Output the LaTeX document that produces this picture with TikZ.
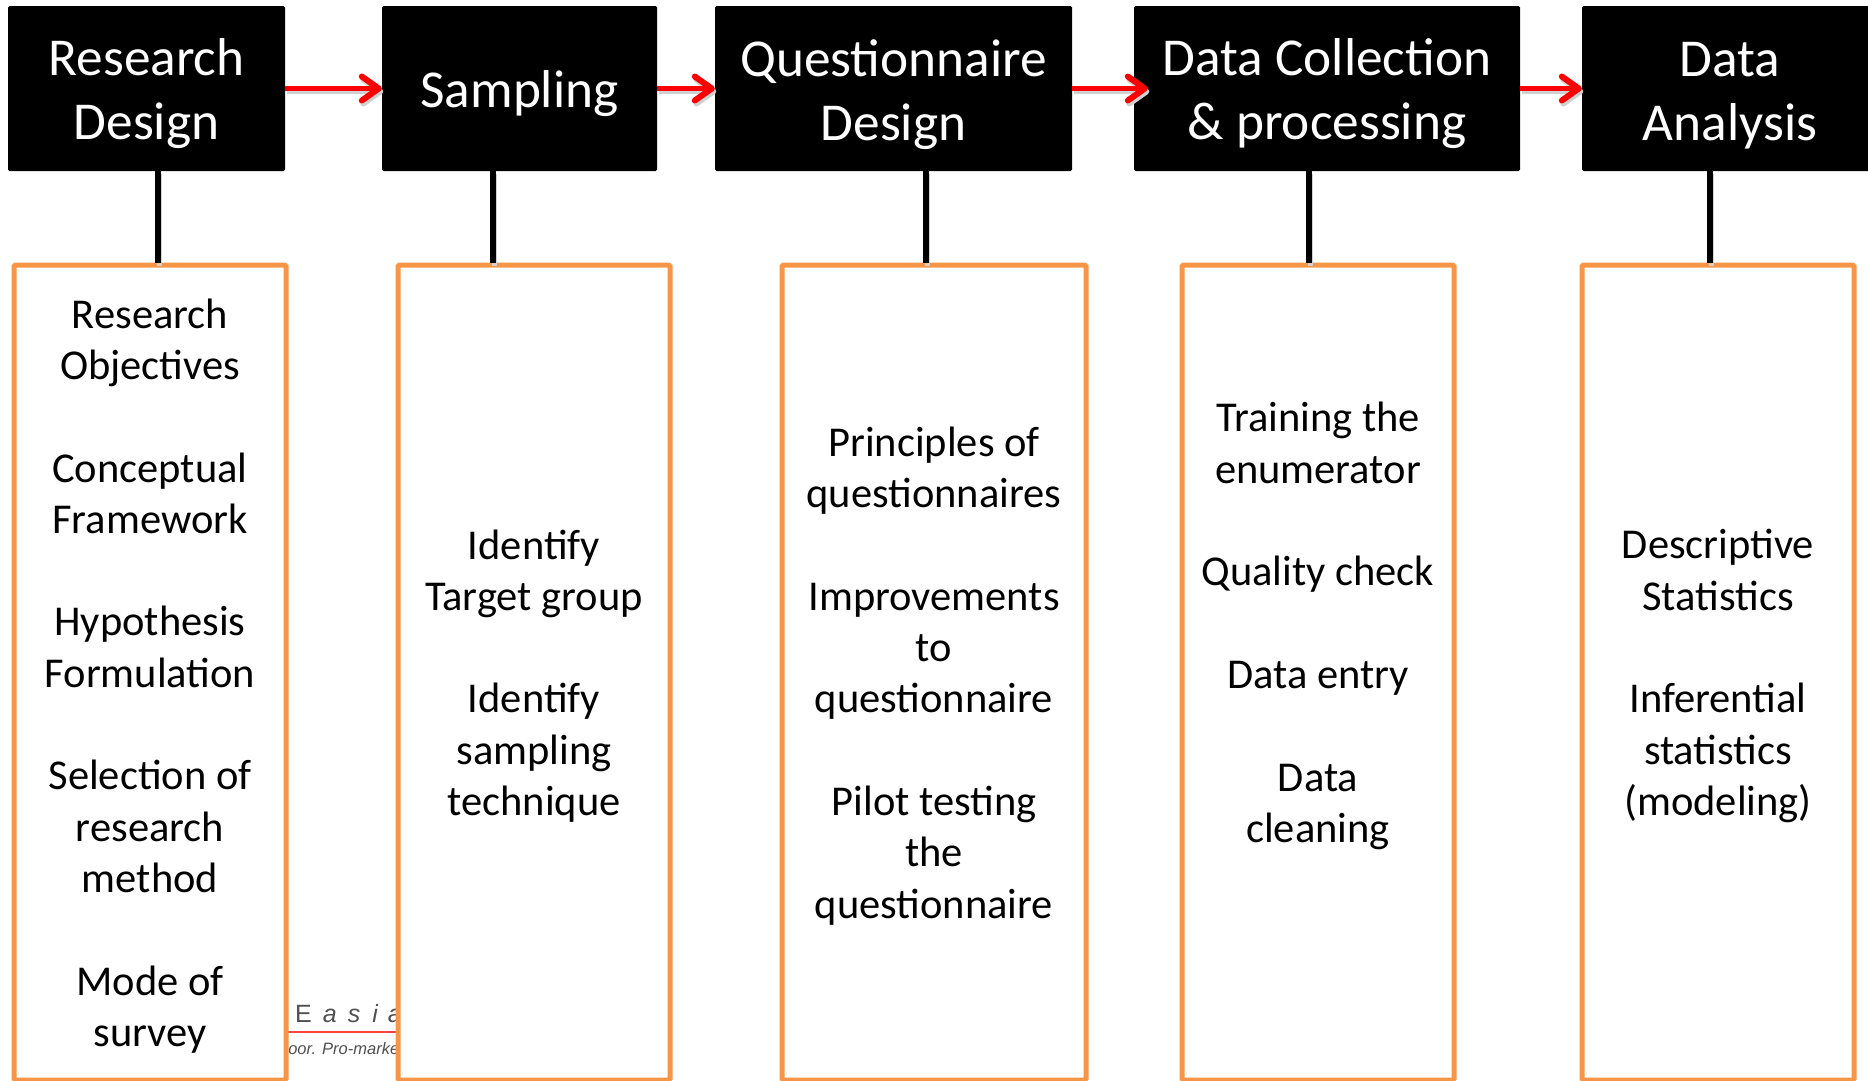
\documentclass[tikz,border=0pt]{standalone}
\usepackage{fontspec}
\setmainfont{Carlito}
\newfontfamily\markfont{Liberation Sans}
\usetikzlibrary{arrows.meta}
\definecolor{boxorange}{RGB}{247,150,70}
\definecolor{markgray}{RGB}{80,80,80}
\newcommand{\tallline}{\rule{0pt}{39pt}}
\tikzset{
    stage/.style={rectangle, rounded corners=1.5pt, fill=black, text=white, align=center, inner sep=0pt, minimum height=165pt, text depth=0pt, font=\fontsize{53.3}{64}\selectfont},
    detail/.style={rectangle, rounded corners=1.5pt, draw=boxorange, line width=5pt, align=center, inner sep=0pt, minimum height=815pt, text depth=0pt, font=\fontsize{42.5}{51.3}\selectfont},
    flow/.style={draw=red, line width=5.5pt, -{Straight Barb[length=17pt, width=24pt, line width=6pt, round]}},
    stem/.style={draw=black, line width=5.5pt},
    lift/.style={preaction={draw=black!18, line width=5pt, transform canvas={shift={(1.5pt,-3pt)}}}}
}
\begin{document}
\begin{tikzpicture}[x=1pt, y=-1pt]
    \useasboundingbox (0,0) rectangle (1868,1080);

    % Faint logo behind the boxes
    \begin{scope}
        \clip (286,980) rectangle (397,1080);
        \node[anchor=base west, inner sep=0pt, text=markgray, font=\markfont\fontsize{25}{30}\selectfont] (logo) at (295,1022) {E\hspace{11pt}\itshape a\hspace{11pt}s\hspace{12pt}i\hspace{10pt}a};
        \coordinate (rule start) at (286,1031.5);
        \coordinate (rule end) at (397,1031.5);
        \draw[red!75, line width=2pt] (rule start) -- (rule end);
        \node[anchor=base east, inner sep=0pt, text=markgray, font=\markfont\itshape\fontsize{16.5}{20}\selectfont] (tag) at (404,1054) {poor. Pro-market};
    \end{scope}

    % Stages along the top
    \node[stage, minimum width=277pt] (design) at (146.5,88.5) {Research\\Design};
    \node[stage, minimum width=275pt] (sampling) at (519.5,88.5) {Sampling};
    \node[stage, minimum width=357pt] (quest) at (893.5,88.5) {\tallline Questionnaire\\Design};
    \node[stage, minimum width=386pt] (collect) at (1327,88.5) {Data Collection\\\& processing};
    \node[stage, minimum width=296pt] (analysis) at (1730,88.5) {\tallline Data\\Analysis};

    % Activity lists, cut by the lower edge
    \node[detail, minimum width=272pt] (design list) at (150,672.5) {Research\\Objectives\\[51.3pt]Conceptual\\Framework\\[51.3pt]Hypothesis\\Formulation\\[51.3pt]Selection of\\research\\method\\[51.3pt]Mode of\\survey};
    \node[detail, minimum width=272pt] (sampling list) at (534,672.5) {Identify\\Target group\\[51.3pt]Identify\\sampling\\technique};
    \node[detail, minimum width=304pt] (quest list) at (934,672.5) {Principles of\\questionnaires\\[51.3pt]Improvements\\to\\questionnaire\\[51.3pt]Pilot testing\\the\\questionnaire};
    \node[detail, minimum width=272pt] (collect list) at (1318,672.5) {Training the\\enumerator\\[51.3pt]Quality check\\[51.3pt]Data entry\\[51.3pt]Data\\cleaning\\[49pt]\strut};
    \node[detail, minimum width=272pt] (analysis list) at (1718,672.5) {Descriptive\\Statistics\\[51.3pt]Inferential\\statistics\\(modeling)};

    % Flow between stages
    \draw[flow, lift] (design) -- (sampling);
    \draw[flow, lift] (sampling) -- (quest);
    \draw[flow, lift, shorten >=-14pt] (quest) -- (collect);
    \draw[flow, lift] (collect) -- (analysis);

    % Stems down to the lists
    \draw[stem, lift] ([xshift=11.5pt]design.south) -- ([xshift=8pt]design list.north);
    \draw[stem, lift] ([xshift=-26.5pt]sampling.south) -- ([xshift=-41pt]sampling list.north);
    \draw[stem, lift] ([xshift=32.5pt]quest.south) -- ([xshift=-8pt]quest list.north);
    \draw[stem, lift] ([xshift=-18pt]collect.south) -- ([xshift=-9pt]collect list.north);
    \draw[stem, lift] ([xshift=-20pt]analysis.south) -- ([xshift=-8pt]analysis list.north);
\end{tikzpicture}
\end{document}
